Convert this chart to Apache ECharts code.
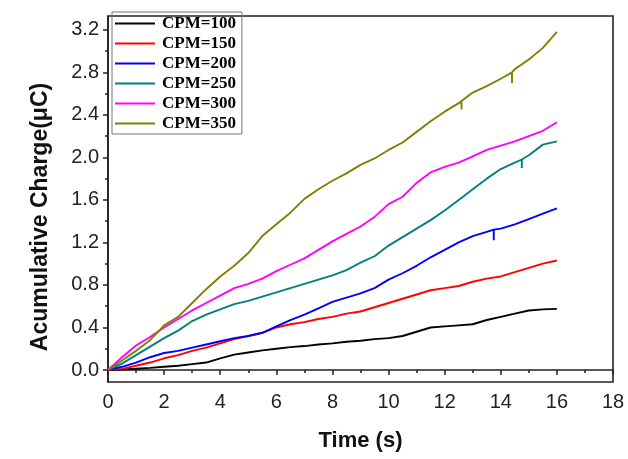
<!DOCTYPE html>
<html><head><meta charset="utf-8">
<script src="https://cdn.jsdelivr.net/npm/echarts@6/dist/echarts.min.js"></script>
<style>html,body{margin:0;padding:0;background:#fff}#c{width:628px;height:459px}</style>
</head><body><div id="c"></div>
<script>
const time = [0,0.5,1,1.5,2,2.5,3,3.5,4,4.5,5,5.5,6,6.5,7,7.5,8,8.5,9,9.5,10,10.5,11,11.5,12,12.5,13,13.5,14,14.5,15,15.5,16];
const seriesNames = ['CPM=100','CPM=150','CPM=200','CPM=250','CPM=300','CPM=350'];
const cpm100 = [0,0.005,0.012,0.02,0.03,0.04,0.055,0.07,0.11,0.145,0.165,0.185,0.2,0.215,0.225,0.24,0.25,0.265,0.275,0.29,0.30,0.32,0.36,0.40,0.41,0.42,0.43,0.47,0.50,0.53,0.56,0.57,0.575];
const cpm150 = [0,0.01,0.04,0.07,0.11,0.14,0.18,0.21,0.25,0.29,0.32,0.35,0.40,0.43,0.45,0.48,0.50,0.53,0.55,0.59,0.63,0.67,0.71,0.75,0.77,0.79,0.83,0.86,0.88,0.92,0.96,1.00,1.03];
const cpm200 = [0,0.03,0.07,0.12,0.16,0.18,0.21,0.24,0.27,0.30,0.32,0.35,0.41,0.47,0.52,0.58,0.64,0.68,0.72,0.77,0.85,0.91,0.98,1.06,1.13,1.20,1.26,1.30,1.33,1.37,1.42,1.47,1.52];
const cpm250 = [0,0.06,0.14,0.22,0.30,0.37,0.46,0.52,0.57,0.62,0.65,0.69,0.73,0.77,0.81,0.85,0.89,0.94,1.01,1.07,1.17,1.25,1.33,1.41,1.50,1.60,1.70,1.80,1.89,1.95,2.02,2.12,2.15];
const cpm300 = [0,0.12,0.23,0.31,0.40,0.48,0.56,0.63,0.70,0.77,0.81,0.86,0.93,0.99,1.05,1.13,1.21,1.28,1.35,1.44,1.56,1.63,1.76,1.86,1.91,1.95,2.01,2.07,2.11,2.15,2.20,2.25,2.33];
const cpm350 = [0,0.09,0.18,0.28,0.42,0.50,0.63,0.76,0.88,0.98,1.10,1.26,1.37,1.48,1.61,1.70,1.78,1.85,1.93,1.99,2.07,2.14,2.24,2.34,2.43,2.51,2.61,2.67,2.74,2.83,2.92,3.03,3.18];
// spikes: [time, value at line, value at spike tip]
const spikes200 = [[13.75, 1.32, 1.22]];
const spikes250 = [[14.75, 1.98, 1.90]];
const spikes350 = [[12.6, 2.53, 2.45], [14.4, 2.80, 2.70]];
const colors = ['#000000','#ff0000','#0000ff','#008080','#ff00ff','#808000'];
const yLabels = [0,0.4,0.8,1.2,1.6,2.0,2.4,2.8,3.2];
const yMinor = [0.2,0.6,1.0,1.4,1.8,2.2,2.6,3.0];

function build(vals, spikes) {
  const pts = time.map((t, i) => [t, vals[i]]);
  (spikes || []).forEach(s => {
    let idx = pts.findIndex(p => p[0] > s[0]);
    pts.splice(idx, 0, [s[0], s[1]], [s[0], s[2]], [s[0], s[1]]);
  });
  return pts;
}
const allVals = [cpm100, cpm150, cpm200, cpm250, cpm300, cpm350];
const allSpikes = [null, null, spikes200, spikes250, null, spikes350];

const chart = echarts.init(document.getElementById('c'));
const axisFont = {fontFamily: 'Liberation Sans, Arial, sans-serif', fontSize: 20, color: '#222'};
chart.setOption({
  animation: false,
  color: colors,
  grid: {left: 108, right: 15, top: 16, bottom: 77, show: true, borderColor: '#222', borderWidth: 1.6},
  legend: {
    orient: 'vertical', left: 112, top: 12, data: seriesNames,
    icon: 'rect', itemWidth: 40, itemHeight: 2, itemGap: 3,
    borderColor: '#777', borderWidth: 1, padding: [3, 6, 2, 3],
    textStyle: {fontFamily: 'Liberation Serif, Times New Roman, serif', fontWeight: 'bold', fontSize: 17, lineHeight: 17, color: '#000', padding: [0,0,0,2]}
  },
  xAxis: {
    type: 'value', min: 0, max: 18, interval: 2,
    name: 'Time (s)', nameLocation: 'middle', nameGap: 48,
    nameTextStyle: {fontFamily: 'Liberation Sans, Arial, sans-serif', fontWeight: 'bold', fontSize: 22, color: '#111'},
    axisLine: {show: true, lineStyle: {color: '#222', width: 1.6}},
    axisTick: {show: true, inside: false, length: 5, lineStyle: {color: '#222', width: 1.5}},
    minorTick: {show: true, splitNumber: 2, length: 3, lineStyle: {color: '#222', width: 1.5}},
    axisLabel: Object.assign({margin: 10}, axisFont),
    splitLine: {show: false}
  },
  yAxis: [{
    type: 'value', min: -0.113, max: 3.33,
    name: 'Acumulative Charge(\u03bcC)', nameLocation: 'middle', nameGap: 56,
    nameTextStyle: {fontFamily: 'Liberation Sans, Arial, sans-serif', fontWeight: 'bold', fontSize: 23, color: '#111', padding: [0, 36, 0, 0]},
    axisLine: {show: true, lineStyle: {color: '#222', width: 1.6}},
    axisTick: {show: true, inside: false, length: 5, customValues: yLabels, lineStyle: {color: '#222', width: 1.5}},
    axisLabel: Object.assign({margin: 9, customValues: yLabels, formatter: v => v.toFixed(1)}, axisFont),
    splitLine: {show: false}
  }, {
    type: 'value', min: -0.113, max: 3.33, position: 'left', offset: 0,
    axisLine: {show: false},
    axisTick: {show: true, inside: false, length: 3, customValues: yMinor, lineStyle: {color: '#222', width: 1.5}},
    axisLabel: {show: false, customValues: yMinor},
    splitLine: {show: false}
  }],
  series: seriesNames.map((n, i) => ({
    name: n, type: 'line', showSymbol: false, symbol: 'none',
    yAxisIndex: 0, data: build(allVals[i], allSpikes[i]),
    lineStyle: {width: 1.9, color: colors[i]}, z: 2 + i
  }))
});
</script></body></html>
